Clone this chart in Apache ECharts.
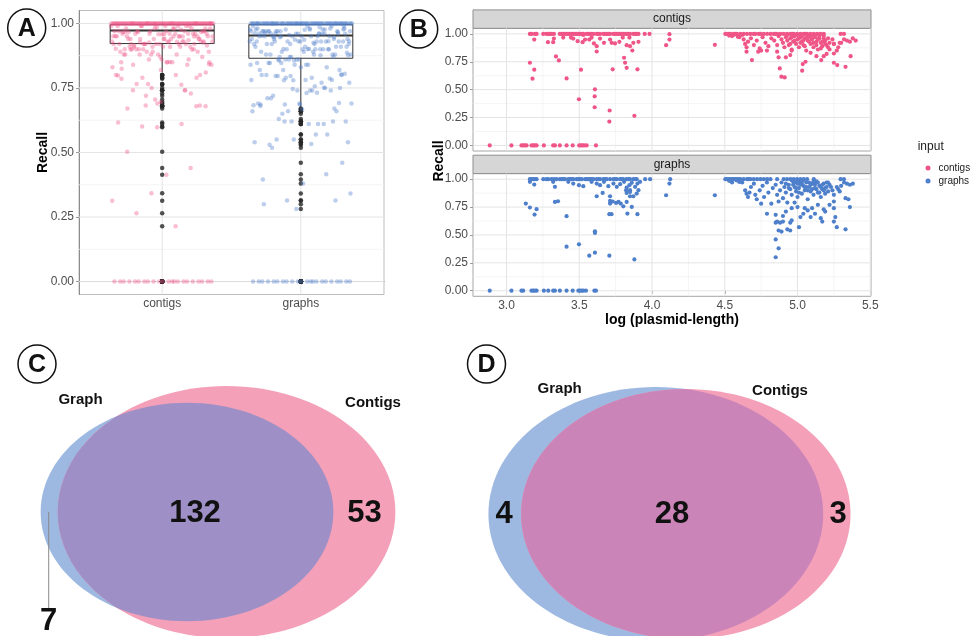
<!DOCTYPE html>
<html>
<head>
<meta charset="utf-8">
<script src="https://cdn.jsdelivr.net/npm/echarts@6/dist/echarts.min.js"></script>
<style>
  html, body { margin: 0; padding: 0; background: #ffffff; }
  #chart { width: 972px; height: 636px; }
</style>
</head>
<body>
<div id="chart"></div>
<script>
// ---------------------------------------------------------------------------
// Data
// ---------------------------------------------------------------------------
const inputNames = ['contigs', 'graphs'];
const recallTicks = [0, 0.25, 0.5, 0.75, 1];
const recallMinor = [0.125, 0.375, 0.625, 0.875];
const lengthTicks = [3.0, 3.5, 4.0, 4.5, 5.0, 5.5];
const lengthMinor = [3.25, 3.75, 4.25, 4.75, 5.25];

// [log10(plasmid length), recall] per plasmid, contig input
const contigsPoints = [
  [2.885,0],[3.034,0],[3.103,0],[3.115,0],[3.126,0],[3.138,0],[3.172,0],[3.184,0],[3.195,0],[3.207,0],[3.257,0],
  [3.321,0],[3.333,0],[3.367,0],[3.413,0],[3.455,0],[3.500,0],[3.512,0],[3.523,0],[3.535,0],[3.551,0],[3.615,0],
  [3.161,0.741],[3.191,0.679],[3.179,0.598],[3.340,0.798],[3.360,0.762],[3.413,0.601],[3.512,0.679],[3.498,0.414],
  [3.608,0.503],[3.606,0.440],[3.606,0.342],[3.709,0.313],[3.707,0.214],[3.879,0.265],[3.730,0.682],[3.826,0.696],
  [3.808,0.786],[3.815,0.741],[3.900,0.682],[3.620,0.842],[3.865,0.851],[4.097,0.899],[4.120,0.949],[4.120,0.997],[4.432,0.902],
  [3.191,0.949],[3.285,0.926],[3.321,0.926],[3.326,0.958],[3.443,0.967],[3.489,0.935],[3.523,0.926],[3.540,0.949],
  [3.569,0.949],[3.601,0.914],[3.620,0.890],[3.643,0.958],[3.670,0.920],[3.712,0.949],[3.723,0.920],[3.746,0.914],
  [3.776,0.929],[3.799,0.967],[3.826,0.899],[3.849,0.890],[3.872,0.920],[3.907,0.929],[3.845,0.967],[3.585,0.967],
  [3.459,0.958],[3.390,0.967],[3.528,0.990],
  [3.161,1],[3.172,1],[3.195,1],[3.207,1],[3.253,1],[3.275,1],[3.287,1],[3.298,1],[3.310,1],[3.326,1],[3.367,1],
  [3.379,1],[3.390,1],[3.402,1],[3.413,1],[3.425,1],[3.436,1],[3.448,1],[3.459,1],[3.471,1],[3.482,1],[3.494,1],
  [3.505,1],[3.517,1],[3.528,1],[3.551,1],[3.562,1],[3.574,1],[3.585,1],[3.597,1],[3.620,1],[3.631,1],[3.643,1],
  [3.666,1],[3.677,1],[3.689,1],[3.700,1],[3.712,1],[3.735,1],[3.746,1],[3.758,1],[3.769,1],[3.781,1],[3.792,1],
  [3.803,1],[3.815,1],[3.826,1],[3.838,1],[3.849,1],[3.872,1],[3.884,1],[3.895,1],[3.907,1],[3.950,1],[3.983,1],
  [4.504,1],[4.515,1],[4.527,1],[4.538,1],[4.561,1],[4.573,1],[4.584,1],[4.607,1],[4.630,1],[4.653,1],[4.676,1],
  [4.699,1],[4.710,1],[4.733,1],[4.745,1],[4.768,1],[4.791,1],[4.814,1],[4.837,1],[4.848,1],[4.860,1],[4.882,1],
  [4.905,1],[4.928,1],[4.951,1],[4.963,1],[4.974,1],[4.997,1],[5.020,1],[5.043,1],[5.055,1],[5.066,1],[5.089,1],
  [5.112,1],[5.135,1],[5.158,1],[5.181,1],[5.296,1],[5.319,1],
  [4.53,0.985],[4.56,0.99],[4.59,0.975],[4.62,0.99],
  [4.55,0.98],[4.60,0.97],[4.63,0.95],[4.64,0.91],[4.65,0.88],[4.66,0.93],[4.68,0.96],[4.70,0.90],[4.72,0.94],
  [4.74,0.87],[4.75,0.85],[4.76,0.97],[4.78,0.92],[4.80,0.89],[4.82,0.96],[4.84,0.94],[4.86,0.90],[4.87,0.98],
  [4.89,0.95],[4.90,0.92],[4.91,0.88],[4.92,0.97],[4.93,0.94],[4.94,0.90],[4.95,0.96],[4.96,0.86],[4.97,0.93],
  [4.98,0.98],[4.99,0.91],[5.00,0.95],[5.01,0.88],[5.02,0.97],[5.03,0.93],[5.04,0.90],[5.05,0.96],[5.06,0.85],
  [5.07,0.94],[5.08,0.98],[5.09,0.91],[5.10,0.95],[5.11,0.88],[5.12,0.97],[5.13,0.93],[5.14,0.86],[5.15,0.96],
  [5.16,0.92],[5.17,0.89],[5.18,0.98],[5.19,0.94],[5.20,0.90],[5.21,0.96],[5.22,0.92],[5.24,0.95],[5.25,0.91],
  [4.93,0.99],[4.96,0.97],[5.00,0.99],[5.03,0.98],[5.06,0.99],[5.09,0.97],[5.12,0.99],[5.15,0.98],[5.18,0.96],
  [4.98,0.94],[5.02,0.92],[5.05,0.89],[5.08,0.93],[5.11,0.92],[5.14,0.95],[5.17,0.93],[4.95,0.91],[5.01,0.96],
  [5.04,0.94],[5.07,0.97],[5.10,0.99],[5.13,0.90],[5.16,0.87],[5.19,0.91],[5.21,0.88],
  [4.65,0.84],[4.687,0.765],[4.73,0.84],[4.79,0.85],[4.86,0.84],[4.87,0.79],[4.878,0.69],[4.889,0.616],[4.912,0.61],
  [4.92,0.79],[4.95,0.81],[4.96,0.85],[5.032,0.67],[5.036,0.729],[5.055,0.75],[5.09,0.83],[5.13,0.80],[5.163,0.765],
  [5.18,0.80],[5.20,0.82],[5.25,0.824],[5.25,0.741],[5.273,0.72],[5.27,0.85],[5.25,0.91],[5.29,0.92],[5.30,0.92],
  [5.33,0.705],[5.365,0.80],[5.32,0.95],[5.34,0.94],[5.36,0.93],[5.40,0.94],[5.28,0.88],[5.22,0.86],[5.38,0.96]
];

// [log10(plasmid length), recall] per plasmid, assembly-graph input
const graphsPoints = [
  [2.885,0],[3.034,0],[3.103,0],[3.115,0],[3.172,0],[3.184,0],[3.195,0],[3.207,0],[3.257,0],[3.287,0],[3.321,0],
  [3.333,0],[3.367,0],[3.413,0],[3.455,0],[3.494,0],[3.505,0],[3.517,0],[3.528,0],[3.546,0],[3.604,0],[3.615,0],
  [3.161,1],[3.172,1],[3.184,1],[3.195,1],[3.207,1],[3.253,1],[3.275,1],[3.287,1],[3.310,1],[3.326,1],[3.344,1],
  [3.367,1],[3.379,1],[3.390,1],[3.402,1],[3.425,1],[3.436,1],[3.448,1],[3.459,1],[3.482,1],[3.494,1],[3.505,1],
  [3.517,1],[3.540,1],[3.551,1],[3.562,1],[3.574,1],[3.585,1],[3.597,1],[3.620,1],[3.631,1],[3.643,1],[3.666,1],
  [3.677,1],[3.689,1],[3.712,1],[3.735,1],[3.746,1],[3.758,1],[3.781,1],[3.792,1],[3.803,1],[3.826,1],[3.838,1],
  [3.849,1],[3.872,1],[3.884,1],[3.895,1],[3.953,1],[3.987,1],
  [3.191,0.952],[3.161,0.976],[3.321,0.976],[3.333,0.931],[3.425,0.976],[3.459,0.961],[3.498,0.946],[3.528,0.937],
  [3.585,0.976],[3.620,0.961],[3.643,0.946],[3.670,0.976],[3.700,0.937],[3.735,0.961],[3.758,0.931],[3.781,0.955],
  [3.808,0.976],[3.826,0.925],[3.845,0.946],[3.861,0.967],[3.884,0.931],[3.900,0.961],[3.918,0.976],[3.822,0.901],
  [3.849,0.886],[3.907,0.901],[3.849,0.847],
  [3.133,0.781],[3.161,0.746],[3.193,0.683],[3.207,0.731],[3.333,0.796],[3.354,0.802],[3.413,0.668],[3.413,0.395],
  [3.498,0.416],[3.569,0.314],[3.608,0.341],[3.608,0.533],[3.608,0.518],[3.707,0.314],[3.879,0.281],[3.620,0.847],
  [3.661,0.877],[3.712,0.847],[3.712,0.805],[3.712,0.781],[3.730,0.800],[3.753,0.787],[3.770,0.796],[3.785,0.781],
  [3.803,0.757],[3.826,0.796],[3.831,0.692],[3.707,0.686],[3.722,0.686],[3.861,0.751],[3.900,0.686],[3.826,0.877],
  [3.849,0.901],[3.872,0.847],[3.895,0.871],[4.097,0.856],[4.120,0.961],[4.125,1.000],[4.432,0.856],
  [4.504,1],[4.515,1],[4.527,1],[4.538,1],[4.550,1],[4.561,1],[4.573,1],[4.584,1],[4.596,1],[4.607,1],[4.630,1],
  [4.653,1],[4.664,1],[4.676,1],[4.699,1],[4.722,1],[4.745,1],[4.768,1],[4.791,1],[4.814,1],[4.860,1],[4.905,1],
  [4.928,1],[4.951,1],[4.974,1],[4.997,1],[5.020,1],[5.043,1],[5.066,1],[5.112,1],[5.296,1],[5.319,1],
  [4.53,0.985],[4.55,0.97],[4.58,0.99],[4.60,0.975],
  [4.62,0.97],[4.64,0.90],[4.65,0.87],[4.66,0.84],[4.67,0.88],[4.68,0.93],[4.70,0.96],[4.71,0.86],[4.72,0.82],
  [4.74,0.90],[4.75,0.78],[4.76,0.94],[4.77,0.84],[4.79,0.97],[4.80,0.88],[4.82,0.78],[4.83,0.92],[4.85,0.95],
  [4.86,0.86],[4.87,0.80],[4.88,0.90],[4.89,0.97],[4.90,0.83],[4.91,0.93],[4.92,0.88],[4.93,0.79],[4.94,0.95],
  [4.95,0.91],[4.96,0.86],[4.97,0.98],[4.98,0.93],[4.99,0.89],[5.00,0.96],[5.00,0.84],[5.01,0.92],[5.02,0.98],
  [5.03,0.87],[5.04,0.94],[5.05,0.90],[5.06,0.97],[5.07,0.82],[5.08,0.93],[5.09,0.89],[5.10,0.96],[5.11,0.86],
  [5.12,0.92],[5.13,0.98],[5.14,0.88],[5.15,0.94],[5.16,0.84],[5.17,0.91],[5.18,0.96],[5.19,0.87],[5.20,0.93],
  [5.21,0.89],[5.22,0.95],[5.24,0.90],[5.25,0.86],[5.27,0.93],[5.29,0.89],[5.30,0.94],[5.32,0.97],[5.34,0.96],
  [5.36,0.95],[5.38,0.96],[5.35,0.82],[5.28,0.91],
  [4.96,0.99],[4.98,0.97],[5.00,0.99],[5.02,0.95],[5.04,0.99],[5.06,0.93],[5.08,0.97],[5.10,0.91],[5.12,0.95],
  [5.14,0.97],[5.16,0.93],[5.18,0.90],[5.20,0.97],[4.97,0.95],[4.99,0.92],[5.01,0.88],[5.03,0.96],[5.05,0.93],
  [5.07,0.90],[5.09,0.95],[5.11,0.98],[5.13,0.91],[5.15,0.88],[5.17,0.95],[5.19,0.92],[5.21,0.97],[4.94,0.92],
  [4.92,0.96],[5.23,0.93],
  [4.79,0.69],[4.85,0.68],[4.85,0.61],[4.86,0.62],[4.87,0.54],[4.88,0.61],[4.89,0.53],[4.90,0.62],[4.93,0.55],
  [4.95,0.54],[4.95,0.61],[4.96,0.63],[4.85,0.46],[4.87,0.38],[4.85,0.30],[5.01,0.57],[5.02,0.66],[5.04,0.69],
  [5.05,0.74],[5.07,0.72],[5.09,0.66],[5.10,0.74],[5.12,0.69],[5.14,0.77],[5.16,0.65],[5.17,0.62],[5.18,0.73],
  [5.19,0.71],[5.25,0.74],[5.25,0.62],[5.26,0.66],[5.27,0.57],[5.33,0.55],[5.36,0.75],[5.33,0.83],[5.25,0.80],
  [5.00,0.75],[4.98,0.79],[5.22,0.77],[4.96,0.74],[4.92,0.71],[4.90,0.67]
];

// box summaries: [lower whisker, Q1, median, Q3, upper whisker]
const contigsBox = [0.81, 0.922, 0.973, 0.995, 1.0];
const graphsBox = [0.675, 0.865, 0.953, 0.995, 1.0];

// Venn counts: plasmids found only by Graph, only by Contigs, and by both
const vennSets = ['Graph', 'Contigs'];
const vennAllOnly = [7, 53];
const vennAllBoth = 132;
const vennSubsetOnly = [4, 3];
const vennSubsetBoth = 28;

// ---------------------------------------------------------------------------
// Styling and layout
// ---------------------------------------------------------------------------
const FONT = "'Liberation Sans', Arial, Helvetica, sans-serif";
const PINK = '#EF5587';
const BLUE = '#4E7FCB';
const GRID_MAJOR = '#E4E4E4';
const GRID_MINOR = '#F1F1F1';
const TICK_TEXT = '#4D4D4D';
const BORDER = '#A6A6A6';

const layoutA = { left: 79, top: 10.5, width: 305, height: 284 };
const layoutB = { left: 473, width: 398, top1: 28.3, top2: 173.6, height: 122.7, strip: 18.4 };
const layoutC = { left: 0, top: 330, width: 450, height: 306 };
const layoutD = { left: 450, top: 330, width: 450, height: 306 };
const recallRange = [-0.05, 1.05];
const catRange = [0.4, 2.6];
const lengthRange = [2.77, 5.505];

const vennGeometry = {
  all: {
    k: 9.264, aspect: 1.34, cy: 182, cx: [187, 226.5],
    colors: ['#9DB9E1', '#F4A0B8', '#9E90C6'],
    setLabelPos: [[80.5, 70], [373, 73]], onlyPos: [[48.5, 291], [364.5, 183]], bothPos: [195, 183],
    leader: [[48.7, 182], [48.7, 279]]
  },
  subset: {
    k: 22.45, aspect: 1.318, cy: 184, cx: [205.8, 235.8],
    colors: ['#9DB9E1', '#F4A0B8', '#CB84B8'],
    setLabelPos: [[109.7, 59], [330, 61]], onlyPos: [[54, 184], [388, 184]], bothPos: [222, 184],
    leader: null
  }
};

// horizontal spread for the strip plot, evenly filling the box width
function jitterOffset(i) {
  return (((i + 1) * 0.6180339887) % 1 - 0.5) * 0.74;
}

// ---------------------------------------------------------------------------
// Builders
// ---------------------------------------------------------------------------
function gridLineSeries(axisIndex, xRange, yRange, hMajor, hMinor, vMajor, vMinor) {
  const data = [];
  hMinor.forEach(v => data.push([xRange[0], v, 0, 0]));
  vMinor.forEach(v => data.push([v, yRange[0], 1, 0]));
  hMajor.forEach(v => data.push([xRange[0], v, 0, 1]));
  vMajor.forEach(v => data.push([v, yRange[0], 1, 1]));
  return {
    type: 'custom', xAxisIndex: axisIndex, yAxisIndex: axisIndex, silent: true, z: 1,
    data: data,
    renderItem: function (params, api) {
      const cs = params.coordSys;
      const p = api.coord([api.value(0), api.value(1)]);
      const horizontal = api.value(2) === 0;
      const major = api.value(3) === 1;
      const shape = horizontal
        ? { x1: cs.x, y1: p[1], x2: cs.x + cs.width, y2: p[1] }
        : { x1: p[0], y1: cs.y, x2: p[0], y2: cs.y + cs.height };
      return { type: 'line', shape: shape, style: { stroke: major ? GRID_MAJOR : GRID_MINOR, lineWidth: major ? 1 : 0.8 } };
    }
  };
}

function recallAxis(gridIndex, labelSize) {
  return {
    gridIndex: gridIndex, type: 'value', min: recallRange[0], max: recallRange[1],
    splitLine: { show: false },
    axisLine: { show: gridIndex === 0, lineStyle: { color: '#8C8C8C', width: 1 } },
    axisTick: { show: true, length: 3, lineStyle: { color: '#9A9A9A' }, customValues: recallTicks },
    axisLabel: {
      show: true, customValues: recallTicks, margin: 5, color: TICK_TEXT,
      fontSize: labelSize, fontFamily: FONT,
      formatter: v => Number(v).toFixed(2)
    }
  };
}

function vennSeries(axisIndex, only, both, geo) {
  return {
    type: 'custom', xAxisIndex: axisIndex, yAxisIndex: axisIndex, silent: true, clip: false,
    data: [[0, 0]],
    renderItem: function (params, api) {
      const totals = [only[0] + both, only[1] + both];
      const shapes = totals.map((t, i) => {
        const ry = geo.k * Math.sqrt(t);
        const size = api.size([ry * geo.aspect, ry]);
        const c = api.coord([geo.cx[i], geo.cy]);
        return { cx: c[0], cy: c[1], rx: Math.abs(size[0]), ry: Math.abs(size[1]) };
      });
      const txt = (pos, text, size) => {
        const p = api.coord(pos);
        return {
          type: 'text', x: p[0], y: p[1], z2: 10,
          style: { text: String(text), fill: '#111111', fontSize: size, fontWeight: 'bold',
                   fontFamily: FONT, align: 'center', verticalAlign: 'middle' }
        };
      };
      const children = [
        { type: 'ellipse', shape: shapes[0], style: { fill: geo.colors[0] } },
        { type: 'ellipse', shape: shapes[1], style: { fill: geo.colors[1] } },
        { type: 'ellipse', shape: shapes[1], style: { fill: geo.colors[2] },
          clipPath: { type: 'ellipse', shape: shapes[0] } }
      ];
      if (geo.leader) {
        const a = api.coord(geo.leader[0]);
        const b = api.coord(geo.leader[1]);
        children.push({ type: 'line', shape: { x1: a[0], y1: a[1], x2: b[0], y2: b[1] },
                        style: { stroke: '#8A8A8A', lineWidth: 1 } });
      }
      vennSets.forEach((name, i) => children.push(txt(geo.setLabelPos[i], name, 15)));
      only.forEach((n, i) => children.push(txt(geo.onlyPos[i], n, 31)));
      children.push(txt(geo.bothPos, both, 31));
      return { type: 'group', children: children };
    }
  };
}

function panelBadge(cx, cy, letter) {
  return {
    type: 'group', children: [
      { type: 'circle', shape: { cx: cx, cy: cy, r: 19 }, style: { fill: '#ffffff', stroke: '#111111', lineWidth: 1.5 } },
      { type: 'text', x: cx, y: cy + 1, style: { text: letter, fill: '#111111', fontSize: 25, fontWeight: 'bold',
        fontFamily: FONT, align: 'center', verticalAlign: 'middle' } }
    ]
  };
}

function stripLabel(top, text) {
  return {
    type: 'group', children: [
      { type: 'rect', shape: { x: layoutB.left, y: top - layoutB.strip, width: layoutB.width, height: layoutB.strip },
        style: { fill: '#D6D6D6', stroke: '#8F8F8F', lineWidth: 1 } },
      { type: 'text', x: layoutB.left + layoutB.width / 2, y: top - layoutB.strip / 2,
        style: { text: text, fill: '#1A1A1A', fontSize: 12, fontFamily: FONT, align: 'center', verticalAlign: 'middle' } }
    ]
  };
}

function axisTitle(x, y, text, rotated) {
  return {
    type: 'text', x: x, y: y, rotation: rotated ? Math.PI / 2 : 0,
    style: { text: text, fill: '#000000', fontSize: 14, fontWeight: 'bold', fontFamily: FONT,
             align: 'center', verticalAlign: 'middle' }
  };
}

// ---------------------------------------------------------------------------
// Series
// ---------------------------------------------------------------------------
const boxes = [contigsBox, graphsBox];
const pointSets = [contigsPoints, graphsPoints];
const colors = [PINK, BLUE];

const boxSeries = {
  type: 'custom', xAxisIndex: 0, yAxisIndex: 0, silent: true, z: 2,
  data: boxes.map((b, i) => [i + 1].concat(b)),
  renderItem: function (params, api) {
    const x = api.value(0), half = 0.375;
    const lw = api.value(1), q1 = api.value(2), med = api.value(3), q3 = api.value(4), uw = api.value(5);
    const pLw = api.coord([x, lw]), pQ1 = api.coord([x, q1]), pQ3 = api.coord([x, q3]), pUw = api.coord([x, uw]);
    const tl = api.coord([x - half, q3]), br = api.coord([x + half, q1]);
    const m1 = api.coord([x - half, med]), m2 = api.coord([x + half, med]);
    const st = { stroke: '#333333', lineWidth: 1, fill: 'none' };
    return {
      type: 'group', children: [
        { type: 'line', shape: { x1: pLw[0], y1: pLw[1], x2: pQ1[0], y2: pQ1[1] }, style: st },
        { type: 'line', shape: { x1: pQ3[0], y1: pQ3[1], x2: pUw[0], y2: pUw[1] }, style: st },
        { type: 'rect', shape: { x: tl[0], y: tl[1], width: br[0] - tl[0], height: br[1] - tl[1] }, style: st },
        { type: 'line', shape: { x1: m1[0], y1: m1[1], x2: m2[0], y2: m2[1] }, style: { stroke: '#333333', lineWidth: 2 } }
      ]
    };
  }
};

const outlierSeries = {
  type: 'scatter', name: 'outliers', xAxisIndex: 0, yAxisIndex: 0, silent: true, z: 3,
  symbolSize: 4.5, itemStyle: { color: '#262626' },
  data: [].concat(...pointSets.map((pts, i) => pts.filter(p => p[1] < boxes[i][0]).map(p => [i + 1, p[1]])))
};

const jitterSeries = pointSets.map((pts, i) => ({
  type: 'scatter', name: inputNames[i] + ' recall', xAxisIndex: 0, yAxisIndex: 0, silent: true, z: 4,
  symbolSize: 4.5, itemStyle: { color: colors[i], opacity: 0.38 },
  data: pts.map((p, j) => [i + 1 + jitterOffset(j), p[1]])
}));

const facetSeries = pointSets.map((pts, i) => ({
  type: 'scatter', name: inputNames[i], xAxisIndex: i + 1, yAxisIndex: i + 1, silent: true, z: 4,
  symbolSize: 4.2, itemStyle: { color: colors[i], opacity: 1 },
  data: pts.map(p => [p[0], p[1]])
}));

// ---------------------------------------------------------------------------
// Option
// ---------------------------------------------------------------------------
const option = {
  animation: false,
  backgroundColor: '#ffffff',
  textStyle: { fontFamily: FONT },
  grid: [
    { left: layoutA.left, top: layoutA.top, width: layoutA.width, height: layoutA.height,
      show: true, borderColor: '#BDBDBD', borderWidth: 1, backgroundColor: 'transparent' },
    { left: layoutB.left, top: layoutB.top1, width: layoutB.width, height: layoutB.height,
      show: true, borderColor: BORDER, borderWidth: 1, backgroundColor: 'transparent' },
    { left: layoutB.left, top: layoutB.top2, width: layoutB.width, height: layoutB.height,
      show: true, borderColor: BORDER, borderWidth: 1, backgroundColor: 'transparent' },
    { left: layoutC.left, top: layoutC.top, width: layoutC.width, height: layoutC.height, show: false },
    { left: layoutD.left, top: layoutD.top, width: layoutD.width, height: layoutD.height, show: false }
  ],
  xAxis: [
    { gridIndex: 0, type: 'value', min: catRange[0], max: catRange[1], splitLine: { show: false },
      axisLine: { show: true, lineStyle: { color: '#8C8C8C' } },
      axisTick: { show: true, length: 3, lineStyle: { color: '#9A9A9A' }, customValues: [1, 2] },
      axisLabel: { customValues: [1, 2], margin: 3, color: TICK_TEXT, fontSize: 12, fontFamily: FONT,
                   formatter: v => inputNames[Math.round(v) - 1] } },
    { gridIndex: 1, type: 'value', min: lengthRange[0], max: lengthRange[1], splitLine: { show: false },
      axisLine: { show: false }, axisTick: { show: false }, axisLabel: { show: false } },
    { gridIndex: 2, type: 'value', min: lengthRange[0], max: lengthRange[1], splitLine: { show: false },
      axisLine: { show: false },
      axisTick: { show: true, length: 3, lineStyle: { color: '#9A9A9A' }, customValues: lengthTicks },
      axisLabel: { customValues: lengthTicks, margin: 3, color: TICK_TEXT, fontSize: 12, fontFamily: FONT,
                   formatter: v => Number(v).toFixed(1) } },
    { gridIndex: 3, type: 'value', min: 0, max: layoutC.width, show: false },
    { gridIndex: 4, type: 'value', min: 0, max: layoutD.width, show: false }
  ],
  yAxis: [
    recallAxis(0, 12),
    recallAxis(1, 12),
    recallAxis(2, 12),
    { gridIndex: 3, type: 'value', min: 0, max: layoutC.height, inverse: true, show: false },
    { gridIndex: 4, type: 'value', min: 0, max: layoutD.height, inverse: true, show: false }
  ],
  legend: {
    data: inputNames.map(n => ({ name: n, icon: 'circle' })),
    orient: 'vertical', left: 920.5, top: 158, itemWidth: 5, itemHeight: 5, itemGap: 3,
    selectedMode: false,
    textStyle: { fontSize: 10, color: '#1A1A1A', fontFamily: FONT, padding: [0, 0, 0, 3] }
  },
  graphic: [
    panelBadge(26.7, 28, 'A'),
    panelBadge(418.7, 29, 'B'),
    panelBadge(37, 364, 'C'),
    panelBadge(486.5, 364, 'D'),
    stripLabel(layoutB.top1, 'contigs'),
    stripLabel(layoutB.top2, 'graphs'),
    axisTitle(43, 152.5, 'Recall', true),
    axisTitle(439, 161, 'Recall', true),
    axisTitle(layoutB.left + layoutB.width / 2, 320, 'log (plasmid-length)', false),
    { type: 'text', x: 917.7, y: 146.7,
      style: { text: 'input', fill: '#1A1A1A', fontSize: 12, fontFamily: FONT, align: 'left', verticalAlign: 'middle' } }
  ],
  series: [
    gridLineSeries(0, catRange, recallRange, recallTicks, recallMinor, [1, 2], []),
    gridLineSeries(1, lengthRange, recallRange, recallTicks, recallMinor, lengthTicks, lengthMinor),
    gridLineSeries(2, lengthRange, recallRange, recallTicks, recallMinor, lengthTicks, lengthMinor),
    boxSeries,
    outlierSeries,
    ...jitterSeries,
    ...facetSeries,
    vennSeries(3, vennAllOnly, vennAllBoth, vennGeometry.all),
    vennSeries(4, vennSubsetOnly, vennSubsetBoth, vennGeometry.subset)
  ]
};

const chart = echarts.init(document.getElementById('chart'), null, { renderer: 'canvas' });
chart.setOption(option);
</script>
</body>
</html>
